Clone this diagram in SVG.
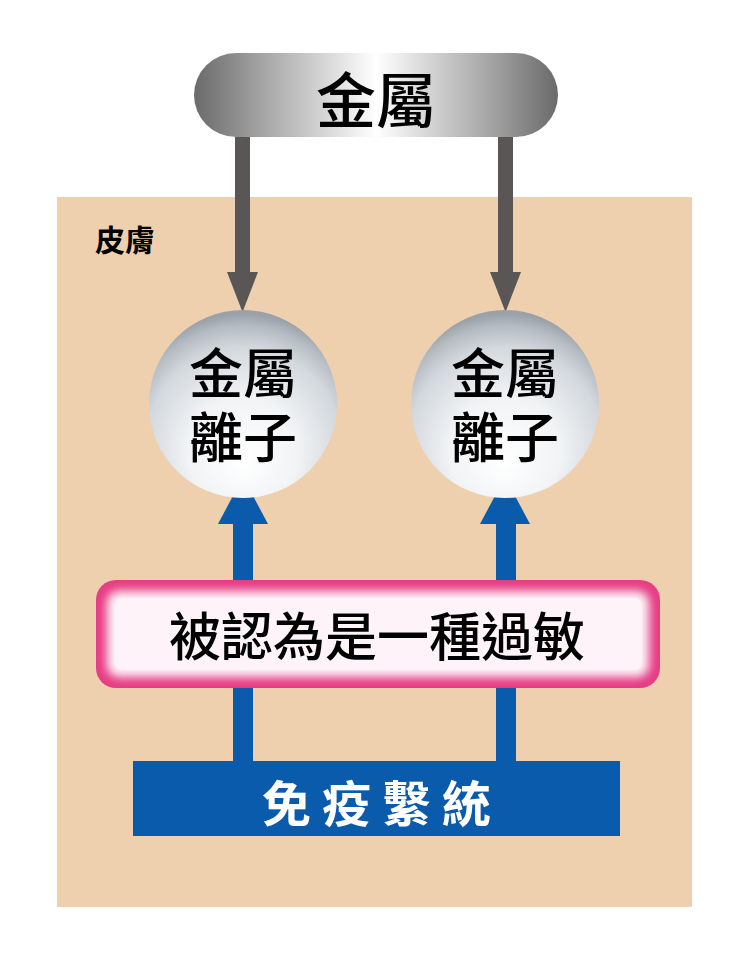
<svg xmlns="http://www.w3.org/2000/svg" width="750" height="954" viewBox="0 0 750 954">
<defs>
<linearGradient id="metal" x1="0" y1="0" x2="1" y2="0">
<stop offset="0" stop-color="#6a6a6a"/>
<stop offset="0.2" stop-color="#a8a8a8"/>
<stop offset="0.5" stop-color="#ffffff"/>
<stop offset="0.8" stop-color="#a8a8a8"/>
<stop offset="1" stop-color="#6a6a6a"/>
</linearGradient>
<radialGradient id="ion" cx="0.5" cy="0.68" r="0.66" fx="0.5" fy="0.82">
<stop offset="0" stop-color="#ffffff"/>
<stop offset="0.45" stop-color="#f1f3f5"/>
<stop offset="0.78" stop-color="#d3d8dd"/>
<stop offset="0.92" stop-color="#b4bbc2"/>
<stop offset="1" stop-color="#9aa1a8"/>
</radialGradient>
<filter id="blur" x="-5%" y="-20%" width="110%" height="140%">
<feGaussianBlur stdDeviation="5"/>
</filter>
</defs>
<style>
.cjk{font-family:"Noto Sans CJK TC","Noto Sans CJK SC",sans-serif;text-anchor:middle}
.dark{fill:#000}
.gray{fill:#5a5656}
.blue{fill:#0a5bab}
</style>
<rect x="57" y="197" width="635" height="710" fill="#efd0ae"/>
<text class="cjk dark" x="95" y="251" font-size="30" font-weight="700" style="text-anchor:start">皮膚</text>
<g id="connectors">
<rect class="gray" x="235" y="136" width="15" height="140"/>
<path class="gray" d="M227,272 L258,272 L242.5,312 Z"/>
<rect class="gray" x="498" y="136" width="15" height="140"/>
<path class="gray" d="M490,272 L521,272 L505.5,312 Z"/>
<rect class="blue" x="233" y="518" width="20" height="245"/>
<path class="blue" d="M218,524 L268,524 L243,477 Z"/>
<rect class="blue" x="496" y="518" width="20" height="245"/>
<path class="blue" d="M480,524 L530,524 L505,477 Z"/>
</g>
<g id="metal">
<rect x="194" y="53" width="364" height="84" rx="42" fill="url(#metal)"/>
<text class="cjk dark" x="376" y="123" font-size="60" font-weight="500">金屬</text>
</g>
<g id="ion-left">
<circle cx="243" cy="404" r="94" fill="url(#ion)"/>
<text class="cjk dark" font-size="54" font-weight="500"><tspan x="243" y="394">金屬</tspan><tspan x="243" y="458">離子</tspan></text>
</g>
<g id="ion-right">
<circle cx="505" cy="404" r="94" fill="url(#ion)"/>
<text class="cjk dark" font-size="54" font-weight="500"><tspan x="505" y="394">金屬</tspan><tspan x="505" y="458">離子</tspan></text>
</g>
<g id="allergy">
<rect x="96" y="580" width="564" height="108" rx="20" fill="#e63d84"/>
<rect x="107" y="591" width="542" height="86" rx="12" fill="#fdf1f7" filter="url(#blur)"/>
<rect x="114" y="598" width="528" height="72" rx="8" fill="#fdf3f8"/>
<text class="cjk dark" x="377" y="656" font-size="52" font-weight="500">被認為是一種過敏</text>
</g>
<g id="immune">
<rect class="blue" x="133" y="761" width="487" height="75"/>
<text class="cjk" x="382" y="822" font-size="49" font-weight="700" fill="#ffffff" letter-spacing="11">免疫繫統</text>
</g>
</svg>
